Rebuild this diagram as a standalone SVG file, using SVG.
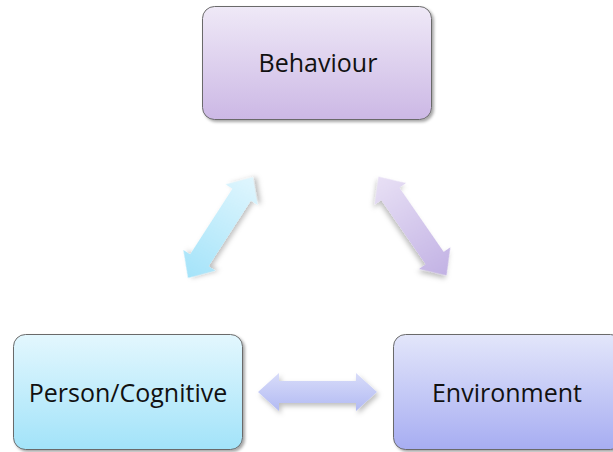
<svg xmlns="http://www.w3.org/2000/svg" width="613" height="452" viewBox="0 0 613 452">
<defs>
<style>
.box{stroke:#6b6b6b;stroke-width:1;filter:url(#sh)}
.lbl{font-family:"Open Sans","Liberation Sans",sans-serif;font-size:25px;fill:#111;text-anchor:middle}
.arr{filter:url(#ash)}
</style>
<filter id="sh" x="-10%" y="-10%" width="125%" height="130%">
<feDropShadow dx="2" dy="2" stdDeviation="1.5" flood-color="#000" flood-opacity="0.35"/>
</filter>
<filter id="ash" x="-20%" y="-30%" width="150%" height="170%">
<feDropShadow dx="2" dy="3" stdDeviation="2.5" flood-color="#000" flood-opacity="0.25"/>
</filter>
<linearGradient id="gB" x1="0" y1="0" x2="0" y2="1"><stop offset="0" stop-color="#EFE9F7"/><stop offset="1" stop-color="#CCB8E5"/></linearGradient>
<linearGradient id="gP" x1="0" y1="0" x2="0" y2="1"><stop offset="0" stop-color="#E3F7FE"/><stop offset="1" stop-color="#A2E3F9"/></linearGradient>
<linearGradient id="gE" x1="0" y1="0" x2="0" y2="1"><stop offset="0" stop-color="#E3E6FA"/><stop offset="1" stop-color="#A7ADF2"/></linearGradient>
<linearGradient id="gL" x1="1" y1="0" x2="0" y2="0"><stop offset="0" stop-color="#E0F6FE"/><stop offset="1" stop-color="#A4E3F9"/></linearGradient>
<linearGradient id="gR" x1="0" y1="0" x2="1" y2="0"><stop offset="0" stop-color="#E8E0F5"/><stop offset="1" stop-color="#C2B2E4"/></linearGradient>
<linearGradient id="gH" x1="0" y1="0" x2="0" y2="1"><stop offset="0" stop-color="#D8DCF9"/><stop offset="1" stop-color="#B2BAF3"/></linearGradient>
<path id="dbl" d="M-60,0 L-39,-19 L-39,-11 L39,-11 L39,-19 L60,0 L39,19 L39,11 L-39,11 L-39,19 Z"/>
</defs>
<rect width="613" height="452" fill="#fff"/>
<g id="connectors">
<g class="arr" transform="translate(220.5,227.5) rotate(-57.2)"><use href="#dbl" fill="url(#gL)"/></g>
<g class="arr" transform="translate(412.5,226) rotate(55.4)"><use href="#dbl" fill="url(#gR)"/></g>
<g class="arr"><path d="M258,392 L279,373 L279,381 L356,381 L356,373 L377,392 L356,411 L356,403 L279,403 L279,411 Z" fill="url(#gH)"/></g>
</g>
<g id="behaviour">
<rect class="box" x="202.5" y="6.5" width="229" height="113" rx="12" fill="url(#gB)"/>
<text class="lbl" x="318" y="72">Behaviour</text>
</g>
<g id="person">
<rect class="box" x="13.5" y="334.5" width="229" height="115" rx="12" fill="url(#gP)"/>
<text class="lbl" x="128" y="402">Person/Cognitive</text>
</g>
<g id="environment">
<rect class="box" x="393.5" y="334.5" width="229" height="115" rx="12" fill="url(#gE)"/>
<text class="lbl" x="507" y="402">Environment</text>
</g>
</svg>
